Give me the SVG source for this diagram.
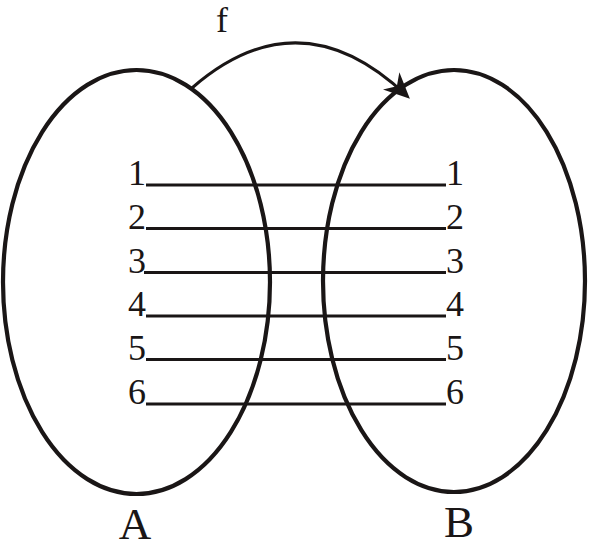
<svg xmlns="http://www.w3.org/2000/svg" width="590" height="549" viewBox="0 0 590 549">
<defs>
<style>
.set{fill:none;stroke:#1a1616;stroke-width:4.2}
.map{stroke:#1a1616;stroke-width:3;fill:none}
.num{font-family:"Liberation Serif","Times New Roman",serif;font-size:36px;fill:#1a1616}
.lbl{font-family:"Liberation Serif","Times New Roman",serif;font-size:45px;fill:#1a1616}
</style>
<marker id="ah" viewBox="0 0 26 24" refX="22" refY="12" markerWidth="26" markerHeight="24" markerUnits="userSpaceOnUse" orient="auto">
<path d="M0,0 L26,12 L0,24 L8,12 Z" fill="#1a1616"/>
</marker>
</defs>
<rect width="590" height="549" fill="#fff"/>
<g id="setA">
<ellipse class="set" cx="136.5" cy="282" rx="133.5" ry="212"/>
<text class="lbl" x="135" y="539" text-anchor="middle">A</text>
</g>
<g id="setB">
<ellipse class="set" cx="454" cy="281" rx="131" ry="211"/>
<text class="lbl" x="459" y="537" text-anchor="middle">B</text>
</g>
<g id="labelsA" class="num" text-anchor="end">
<text x="146" y="185">1</text>
<text x="146" y="229">2</text>
<text x="146" y="273">3</text>
<text x="146" y="316">4</text>
<text x="146" y="360">5</text>
<text x="146" y="404">6</text>
</g>
<g id="labelsB" class="num">
<text x="446" y="185">1</text>
<text x="446" y="229">2</text>
<text x="446" y="273">3</text>
<text x="446" y="316">4</text>
<text x="446" y="360">5</text>
<text x="446" y="404">6</text>
</g>
<g id="connectors">
<line class="map" x1="146" y1="185" x2="446" y2="185"/>
<line class="map" x1="146" y1="228.5" x2="446" y2="228.5"/>
<line class="map" x1="144" y1="272.5" x2="446" y2="272.5"/>
<line class="map" x1="146" y1="316" x2="446" y2="316"/>
<line class="map" x1="146" y1="359.5" x2="446" y2="359.5"/>
<line class="map" x1="146" y1="404" x2="446" y2="404"/>
<path class="map" stroke-width="2.5" d="M192,88 Q300,-6 407,96" marker-end="url(#ah)"/>
</g>
<g id="f-label">
<text class="num" font-size="38" x="216" y="32">f</text>
</g>
</svg>
